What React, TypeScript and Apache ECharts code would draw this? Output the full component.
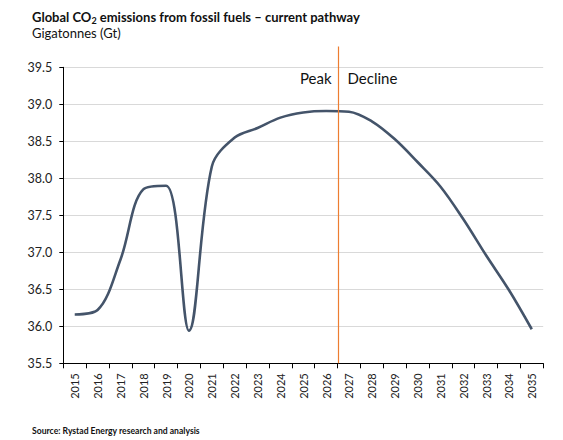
import React, { useEffect, useRef } from "react";
import * as echarts from "echarts";

const years = ["2015","2016","2017","2018","2019","2020","2021","2022","2023","2024","2025","2026","2027","2028","2029","2030","2031","2032","2033","2034","2035"];
const emissions = [36.16, 36.22, 36.9, 37.85, 37.9, 35.94, 38.16, 38.55, 38.68, 38.82, 38.89, 38.91, 38.9, 38.77, 38.53, 38.22, 37.89, 37.45, 36.96, 36.49, 35.96];
// boundary between 2026 and 2027 (band index 12 on a 0..21 band scale)
const peakBoundary = 12;
const peakLineRange = [35.5, 39.78];
const peakLabels = ["Peak", "Decline"];
const peakLabelValue = 39.36;

const FONT = "Lato";

export default function App() {
  const ref = useRef<HTMLDivElement>(null);
  useEffect(() => {
    if (!ref.current) return;
    const chart = echarts.init(ref.current, undefined, { renderer: "svg" });
    chart.setOption({
      animation: false,
      backgroundColor: "#ffffff",
      textStyle: { fontFamily: FONT },
      title: [
        {
          left: 27,
          top: 4,
          text: "{b|Global CO}{s|2}{b| emissions from fossil fuels – current pathway}",
          textStyle: {
            rich: {
              b: { fontFamily: FONT, fontSize: 13, fontWeight: "bold", color: "#111111" },
              s: { fontFamily: FONT, fontSize: 9, fontWeight: "bold", color: "#111111", padding: [7, 0, 0, 0] },
            },
          },
        },
        {
          left: 27,
          top: 21,
          text: "Gigatonnes (Gt)",
          textStyle: { fontFamily: FONT, fontSize: 13, fontWeight: "normal", color: "#111111" },
        },
        {
          left: 27,
          top: 421,
          text: "Source: Rystad Energy research and analysis",
          textStyle: { fontFamily: FONT, fontSize: 8.6, fontWeight: "bold", color: "#111111" },
        },
      ],
      grid: { left: 63.3, right: 19.8, top: 67.3, bottom: 76.7 },
      xAxis: [
        {
          type: "category",
          data: years,
          boundaryGap: true,
          axisLine: { show: true, lineStyle: { color: "#000000", width: 1 } },
          axisTick: { show: true, length: 5, lineStyle: { color: "#000000" } },
          axisLabel: { interval: 0, rotate: 90, fontSize: 11, margin: 10, color: "#222222", fontFamily: FONT },
          splitLine: { show: false },
        },
        { type: "value", min: 0, max: 21, show: false },
      ],
      yAxis: {
        type: "value",
        min: 35.5,
        max: 39.5,
        interval: 0.5,
        axisLine: { show: true, lineStyle: { color: "#000000", width: 1 } },
        axisTick: { show: true, length: 4, lineStyle: { color: "#000000" } },
        axisLabel: { fontSize: 12.5, margin: 11, color: "#222222", fontFamily: FONT, formatter: (v: number) => v.toFixed(1) },
        splitLine: { show: true, lineStyle: { color: "#d9d9d9", width: 1 } },
      },
      series: [
        {
          type: "line",
          data: emissions,
          smooth: 0.35,
          symbol: "none",
          lineStyle: { color: "#44546a", width: 2.6 },
          z: 3,
        },
        {
          type: "line",
          xAxisIndex: 1,
          data: [],
          symbol: "none",
          markPoint: {
            silent: true,
            symbol: "circle",
            symbolSize: 0,
            data: [
              {
                coord: [peakBoundary, peakLabelValue],
                label: { show: true, formatter: peakLabels[0], position: "left", distance: 6, fontSize: 15, color: "#111111", fontFamily: FONT },
              },
              {
                coord: [peakBoundary, peakLabelValue],
                label: { show: true, formatter: peakLabels[1], position: "right", distance: 10, fontSize: 15, color: "#111111", fontFamily: FONT },
              },
            ],
          },
          z: 2,
        },
      ],
    });
    const x = Math.round(chart.convertToPixel({ xAxisIndex: 1 }, peakBoundary) as number) + 0.5;
    const y0 = chart.convertToPixel({ yAxisIndex: 0 }, peakLineRange[0]) as number;
    const y1 = chart.convertToPixel({ yAxisIndex: 0 }, peakLineRange[1]) as number;
    chart.setOption({
      graphic: [
        {
          type: "line",
          z: 10,
          silent: true,
          shape: { x1: x, y1: y1, x2: x, y2: y0 },
          style: { stroke: "#ed7d31", lineWidth: 1.2, fill: null },
        },
      ],
    });
    return () => chart.dispose();
  }, []);
  return <div ref={ref} style={{ position: "absolute", left: 0, top: 0, width: 563, height: 440 }} />;
}
